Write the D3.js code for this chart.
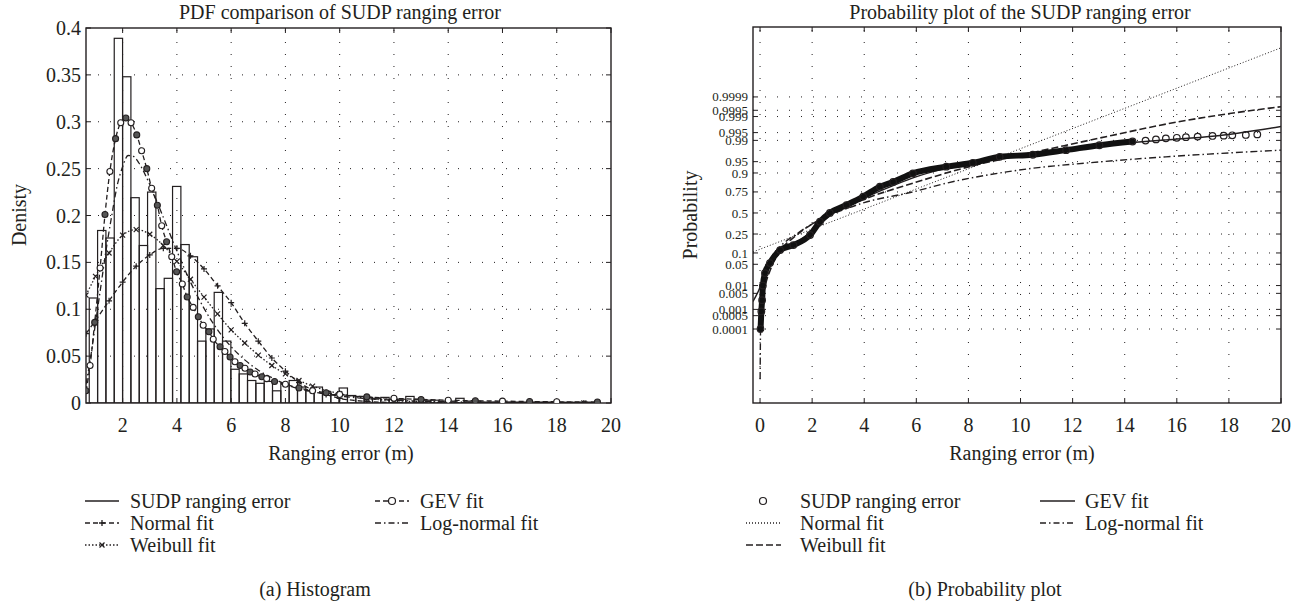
<!DOCTYPE html>
<html>
<head>
<meta charset="utf-8">
<script src="https://cdn.jsdelivr.net/npm/d3@7"></script>
<style>
  body { margin: 0; background: #fff; }
  text { font-family: "Liberation Serif", "Times New Roman", serif; fill: #231f20; }
</style>
</head>
<body>
<svg id="chart" width="1306" height="609"></svg>
<script>
// ---- histogram (a) ----
var binStart = 0.77, binWidth = 0.307;
var histHeights = [0.112, 0.184, 0.176, 0.389, 0.348, 0.219, 0.168, 0.225, 0.122, 0.133,
    0.231, 0.169, 0.156, 0.066, 0.079, 0.118, 0.066, 0.036, 0.031, 0.024,
    0.021, 0.023, 0.013, 0.020, 0.024, 0.017, 0.013, 0.017, 0.012, 0.009,
    0.016, 0.008, 0.007, 0.006, 0.005, 0.006, 0.004, 0.004, 0.007, 0.004,
    0.003, 0.003, 0.002, 0.002, 0.005, 0.002, 0.002, 0.001, 0.001, 0.001,
    0.001, 0.001, 0.001, 0.001, 0.001, 0.001, 0.0008, 0.0008, 0.0008, 0.0008, 0.0008];

var normalPdf = [[0.65,0.074],[1,0.088],[1.5,0.109],[2,0.129],[2.5,0.146],[3,0.158],[3.5,0.165],[4,0.165],
    [4.5,0.157],[5,0.143],[5.5,0.125],[6,0.107],[6.5,0.085],[7,0.066],[7.5,0.048],[8,0.034],[8.5,0.022],
    [9,0.014],[9.5,0.009],[10,0.005],[11,0.0017],[12,0.0004],[13,0.0001],[14,0],[15,0],[16,0],[17,0],[18,0],[19,0],[19.5,0]];
var weibullPdf = [[0.65,0.115],[1,0.135],[1.5,0.160],[2,0.179],[2.5,0.185],[3,0.180],[3.5,0.168],[4,0.151],
    [4.5,0.132],[5,0.113],[5.5,0.095],[6,0.078],[6.5,0.064],[7,0.051],[7.5,0.040],[8,0.031],[8.5,0.024],
    [9,0.018],[10,0.010],[11,0.005],[12,0.0025],[13,0.0012],[14,0.0005],[15,0.0002],[16,0.0001],[17,0],[18,0],[19,0],[19.5,0]];
var gevPdf = [[0.65,0.013],[0.8,0.040],[0.97,0.086],[1.17,0.144],[1.35,0.201],[1.53,0.247],[1.74,0.282],
    [1.93,0.299],[2.12,0.304],[2.31,0.299],[2.52,0.286],[2.70,0.269],[2.89,0.250],[3.07,0.229],[3.28,0.211],
    [3.44,0.189],[3.62,0.172],[3.81,0.156],[3.99,0.140],[4.20,0.127],[4.38,0.113],[4.60,0.102],[4.79,0.092],
    [4.97,0.083],[5.18,0.076],[5.34,0.068],[5.59,0.060],[5.77,0.055],[5.96,0.049],[6.14,0.044],[6.33,0.040],
    [6.51,0.037],[6.70,0.033],[6.88,0.031],[7.13,0.028],[7.31,0.026],[7.6,0.023],[8,0.020],[8.5,0.016],
    [9,0.013],[9.5,0.011],[10,0.009],[11,0.0065],[12,0.005],[13,0.0038],[14,0.003],[15,0.0024],[16,0.002],
    [17,0.0016],[18,0.0013],[19.5,0.001]];
var logNormalPdf = [[0.65,0.02],[0.8,0.045],[1.0,0.085],[1.2,0.125],[1.4,0.165],[1.6,0.20],[1.8,0.232],
    [2.0,0.252],[2.2,0.264],[2.4,0.263],[2.6,0.256],[3.0,0.233],[3.5,0.198],[4.0,0.162],[4.5,0.129],
    [5.0,0.101],[5.5,0.078],[6.0,0.060],[6.5,0.046],[7,0.035],[7.5,0.027],[8,0.020],[9,0.012],[10,0.0075],
    [11,0.0047],[12,0.003],[14,0.0013],[16,0.0006],[18,0.0003],[19.5,0.0002]];
var histYTicks = [0, 0.05, 0.1, 0.15, 0.2, 0.25, 0.3, 0.35, 0.4];
var histXTicks = [2, 4, 6, 8, 10, 12, 14, 16, 18, 20];

// ---- probability plot (b) ----
var sudpProb = [[0.02,0.0001],[0.05,0.0008],[0.08,0.0026],[0.11,0.010],[0.19,0.027],[0.38,0.054],
    [0.77,0.117],[1.28,0.152],[1.92,0.24],[2.30,0.39],[2.68,0.50],[3.32,0.60],[3.96,0.70],[4.60,0.80],
    [5.11,0.84],[5.87,0.898],[7.15,0.931],[8.17,0.946],[9.20,0.964],[10.47,0.969],[11.75,0.978],
    [13.03,0.985],[14.30,0.989],[14.8,0.9898],[15.2,0.9908],[15.58,0.9916],[16.0,0.992],[16.35,0.9924],
    [16.8,0.9928],[17.37,0.9932],[17.8,0.9934],[18.13,0.9936],[18.65,0.9938],[19.09,0.9941]];
var normalProb = [[-0.27,0.106],[3.61,0.5],[9.58,0.9729],[20,0.99999994]];
var weibullProb = [[0.02,0.0002],[0.05,0.0009],[0.1,0.003],[0.2,0.01],[0.4,0.035],[0.77,0.11],[1.41,0.24],
    [2.68,0.48],[4,0.67],[5.87,0.83],[8.17,0.935],[10,0.968],[11.75,0.985],[13.5,0.9935],[15.58,0.9978],
    [17.5,0.9991],[20,0.99967]];
var gevProb = [[-0.27,0.0023],[0.06,0.012],[0.19,0.027],[0.38,0.054],[0.77,0.117],[1.28,0.16],[1.92,0.26],
    [2.68,0.47],[3.96,0.68],[5.11,0.81],[5.87,0.87],[7.15,0.925],[8.17,0.948],[9.2,0.963],[10.47,0.973],
    [11.75,0.980],[13.03,0.985],[14.3,0.988],[15.58,0.9904],[17.37,0.993],[20,0.9972]];
var logNormalProb = [[0.003,0.00000005],[0.02,0.0001],[0.06,0.002],[0.15,0.02],[0.4,0.07],[0.77,0.14],
    [1.4,0.25],[2.04,0.37],[2.68,0.47],[4,0.63],[5.87,0.75],[7.15,0.83],[9.2,0.90],[10.47,0.924],
    [12.5,0.945],[15.58,0.964],[20,0.978]];
var probTicks = [0.0001, 0.0005, 0.001, 0.005, 0.01, 0.05, 0.1, 0.25, 0.5, 0.75, 0.9, 0.95, 0.99, 0.995, 0.999, 0.9995, 0.9999];
var probXTicks = [0, 2, 4, 6, 8, 10, 12, 14, 16, 18, 20];

var legendA = ["SUDP ranging error", "Normal fit", "Weibull fit", "GEV fit", "Log-normal fit"];

// inverse normal cdf (Acklam), used for the probability axis
function probit(p) {
    var a = [-39.69683028665376, 220.9460984245205, -275.9285104469687, 138.3577518672690, -30.66479806614716, 2.506628277459239];
    var b = [-54.47609879822406, 161.5858368580409, -155.6989798598866, 66.80131188771972, -13.28068155288572];
    var c = [-0.007784894002430293, -0.3223964580411365, -2.400758277161838, -2.549732539343734, 4.374664141464968, 2.938163982698783];
    var d = [0.007784695709041462, 0.3224671290700398, 2.445134137142996, 3.754408661907416];
    var q, r;
    if (p < 0.02425) {
        q = Math.sqrt(-2 * Math.log(p));
        return (((((c[0]*q+c[1])*q+c[2])*q+c[3])*q+c[4])*q+c[5]) / ((((d[0]*q+d[1])*q+d[2])*q+d[3])*q+1);
    }
    if (p <= 1 - 0.02425) {
        q = p - 0.5; r = q * q;
        return (((((a[0]*r+a[1])*r+a[2])*r+a[3])*r+a[4])*r+a[5])*q / (((((b[0]*r+b[1])*r+b[2])*r+b[3])*r+b[4])*r+1);
    }
    q = Math.sqrt(-2 * Math.log(1 - p));
    return -(((((c[0]*q+c[1])*q+c[2])*q+c[3])*q+c[4])*q+c[5]) / ((((d[0]*q+d[1])*q+d[2])*q+d[3])*q+1);
}

var svg = d3.select("#chart");
var ink = "#231f20";

function markerPath(kind) {
    if (kind == "plus") return "M-3,0H3M0,-3V3";
    if (kind == "cross") return "M-2.5,-2.5L2.5,2.5M-2.5,2.5L2.5,-2.5";
    return null;
}

// frame with inward ticks + dotted grid
function frame(g, x, y, xt, yt, yFmt, fontY, gridX) {
    var x0 = x.range()[0], x1 = x.range()[1], y0 = y.range()[0], y1 = y.range()[1];
    g.selectAll(".gx").data(gridX).enter().append("line")
        .attr("x1", d => x(d)).attr("x2", d => x(d)).attr("y1", y0).attr("y2", y1)
        .attr("stroke", ink).attr("stroke-width", 1).attr("stroke-dasharray", "1,11");
    g.selectAll(".gy").data(yt.filter(d => y(d) > y1 + 1 && y(d) < y0 - 1)).enter().append("line")
        .attr("x1", x0).attr("x2", x1).attr("y1", d => y(d)).attr("y2", d => y(d))
        .attr("stroke", ink).attr("stroke-width", 1).attr("stroke-dasharray", "1,11");
    xt.forEach(function (d) {
        g.append("line").attr("x1", x(d)).attr("x2", x(d)).attr("y1", y0).attr("y2", y0 - 5).attr("stroke", ink);
        g.append("line").attr("x1", x(d)).attr("x2", x(d)).attr("y1", y1).attr("y2", y1 + 5).attr("stroke", ink);
        g.append("text").attr("x", x(d)).attr("y", y0 + 29).attr("text-anchor", "middle")
            .style("font-size", "20px").text(d);
    });
    yt.forEach(function (d) {
        g.append("line").attr("x1", x0).attr("x2", x0 + 5).attr("y1", y(d)).attr("y2", y(d)).attr("stroke", ink);
        g.append("line").attr("x1", x1).attr("x2", x1 - 5).attr("y1", y(d)).attr("y2", y(d)).attr("stroke", ink);
        g.append("text").attr("x", x0 - 5).attr("y", y(d)).attr("dy", "0.35em").attr("text-anchor", "end")
            .style("font-size", fontY).text(yFmt(d));
    });
    g.append("rect").attr("x", x0).attr("y", y1).attr("width", x1 - x0).attr("height", y0 - y1)
        .attr("fill", "none").attr("stroke", ink).attr("stroke-width", 1.4);
}

/* ---------- (a) histogram ---------- */
var xA = d3.scaleLinear().domain([0.65, 20]).range([86, 611]);
var yA = d3.scaleLinear().domain([0, 0.4]).range([403, 28]);
var gA = svg.append("g");
svg.append("clipPath").attr("id", "clipA").append("rect").attr("x", 86).attr("y", 28).attr("width", 525).attr("height", 375);

frame(gA, xA, yA, histXTicks, histYTicks, d => d, "20px", [2, 4, 6, 8, 10, 12, 14, 16, 18]);

var plotA = gA.append("g").attr("clip-path", "url(#clipA)");
plotA.selectAll(".bar").data(histHeights).enter().append("rect")
    .attr("x", (d, i) => xA(binStart + i * binWidth))
    .attr("width", xA(binStart + binWidth) - xA(binStart))
    .attr("y", d => yA(d)).attr("height", d => yA(0) - yA(d))
    .attr("fill", "none").attr("stroke", ink).attr("stroke-width", 1.2);

var lineA = d3.line().x(d => xA(d[0])).y(d => yA(d[1])).curve(d3.curveMonotoneX);
var fitsA = [
    { data: normalPdf, dash: "5,3", marker: "plus" },
    { data: weibullPdf, dash: "1.5,2", marker: "cross" },
    { data: logNormalPdf, dash: "6,3,1.5,3", marker: null },
    { data: gevPdf, dash: "5,3", marker: "circle" }
];
fitsA.forEach(function (f) {
    plotA.append("path").datum(f.data).attr("d", lineA).attr("fill", "none")
        .attr("stroke", ink).attr("stroke-width", 1.3).attr("stroke-dasharray", f.dash);
    if (f.marker == "circle") {
        plotA.selectAll(null).data(f.data).enter().append("circle")
            .attr("cx", d => xA(d[0])).attr("cy", d => yA(d[1])).attr("r", 3)
            .attr("fill", (d, i) => i % 2 ? "#fff" : "#555").attr("stroke", ink).attr("stroke-width", 1.1);
    } else if (f.marker) {
        plotA.selectAll(null).data(f.data).enter().append("path")
            .attr("transform", d => "translate(" + xA(d[0]) + "," + yA(d[1]) + ")")
            .attr("d", markerPath(f.marker)).attr("stroke", ink).attr("stroke-width", 1.2);
    }
});

svg.append("text").attr("x", 340).attr("y", 19).attr("text-anchor", "middle").style("font-size", "20px")
    .text("PDF comparison of SUDP ranging error");
svg.append("text").attr("x", 341).attr("y", 460).attr("text-anchor", "middle").style("font-size", "20px")
    .text("Ranging error (m)");
svg.append("text").attr("transform", "translate(26,215) rotate(-90)").attr("text-anchor", "middle")
    .style("font-size", "20px").text("Denisty");
svg.append("text").attr("x", 315).attr("y", 596).attr("text-anchor", "middle").style("font-size", "20px")
    .text("(a)  Histogram");

// legend (a)
var legA = [
    { x: 85, y: 501, dash: null, marker: null },
    { x: 85, y: 523, dash: "5,3", marker: "plus" },
    { x: 85, y: 545, dash: "1.5,2", marker: "cross" },
    { x: 375, y: 501, dash: "5,3", marker: "circle" },
    { x: 375, y: 523, dash: "6,3,1.5,3", marker: null }
];
legA.forEach(function (l, i) {
    svg.append("line").attr("x1", l.x).attr("x2", l.x + 34).attr("y1", l.y).attr("y2", l.y)
        .attr("stroke", ink).attr("stroke-width", 1.3).attr("stroke-dasharray", l.dash);
    if (l.marker == "circle") {
        svg.append("circle").attr("cx", l.x + 17).attr("cy", l.y).attr("r", 3.5)
            .attr("fill", "#fff").attr("stroke", ink).attr("stroke-width", 1.2);
    } else if (l.marker) {
        svg.append("path").attr("transform", "translate(" + (l.x + 17) + "," + l.y + ")")
            .attr("d", markerPath(l.marker)).attr("stroke", ink).attr("stroke-width", 1.3);
    }
    svg.append("text").attr("x", l.x + 45).attr("y", l.y).attr("dy", "0.33em").style("font-size", "20px").text(legendA[i]);
});

/* ---------- (b) probability plot ---------- */
var xB = d3.scaleLinear().domain([-0.27, 20]).range([753, 1281]);
var zB = d3.scaleLinear().domain([-6.09, 5.96]).range([403, 27]);
var yB = function (p) { return zB(probit(p)); };
yB.range = function () { return zB.range(); };
var gB = svg.append("g");
svg.append("clipPath").attr("id", "clipB").append("rect").attr("x", 753).attr("y", 27).attr("width", 528).attr("height", 376);

frame(gB, xB, yB, probXTicks, probTicks, d => d, "13px", [0, 2, 4, 6, 8, 10, 12, 14, 16, 18]);

var plotB = gB.append("g").attr("clip-path", "url(#clipB)");
var lineB = d3.line().x(d => xB(d[0])).y(d => yB(d[1])).curve(d3.curveMonotoneX);
var fitsB = [
    { data: normalProb, dash: "1,2", w: 1 },
    { data: weibullProb, dash: "7,3", w: 1.6 },
    { data: logNormalProb, dash: "7,3,1.5,3", w: 1.4 },
    { data: gevProb, dash: null, w: 1.4 }
];
fitsB.forEach(function (f) {
    plotB.append("path").datum(f.data).attr("d", lineB).attr("fill", "none")
        .attr("stroke", ink).attr("stroke-width", f.w).attr("stroke-dasharray", f.dash);
});
// dense empirical points
plotB.append("path").datum(sudpProb.filter(d => d[0] < 14.5)).attr("d", lineB).attr("fill", "none")
    .attr("stroke", "#111").attr("stroke-width", 6).attr("stroke-linecap", "round");
plotB.selectAll(".pt").data(sudpProb).enter().append("circle")
    .attr("cx", d => xB(d[0])).attr("cy", d => yB(d[1])).attr("r", 3.3)
    .attr("fill", "none").attr("stroke", ink).attr("stroke-width", 1.2);

svg.append("text").attr("x", 1020).attr("y", 19).attr("text-anchor", "middle").style("font-size", "20px")
    .text("Probability plot of the SUDP ranging error");
svg.append("text").attr("x", 1022).attr("y", 460).attr("text-anchor", "middle").style("font-size", "20px")
    .text("Ranging error (m)");
svg.append("text").attr("transform", "translate(697,215) rotate(-90)").attr("text-anchor", "middle")
    .style("font-size", "20px").text("Probability");
svg.append("text").attr("x", 985).attr("y", 596).attr("text-anchor", "middle").style("font-size", "20px")
    .text("(b)  Probability plot");

// legend (b)
var legB = [
    { x: 746, y: 501, kind: "circle" },
    { x: 746, y: 523, kind: "1,2" },
    { x: 746, y: 545, kind: "7,3" },
    { x: 1040, y: 501, kind: "solid" },
    { x: 1040, y: 523, kind: "6,3,1.5,3" }
];
legB.forEach(function (l, i) {
    if (l.kind == "circle") {
        svg.append("circle").attr("cx", l.x + 17).attr("cy", l.y).attr("r", 3.5)
            .attr("fill", "none").attr("stroke", ink).attr("stroke-width", 1.2);
    } else {
        svg.append("line").attr("x1", l.x).attr("x2", l.x + 35).attr("y1", l.y).attr("y2", l.y)
            .attr("stroke", ink).attr("stroke-width", 1.3)
            .attr("stroke-dasharray", l.kind == "solid" ? null : l.kind);
    }
    svg.append("text").attr("x", l.x + (i < 3 ? 54 : 45)).attr("y", l.y).attr("dy", "0.33em")
        .style("font-size", "20px").text(legendA[i]);
});
</script>
</body>
</html>
